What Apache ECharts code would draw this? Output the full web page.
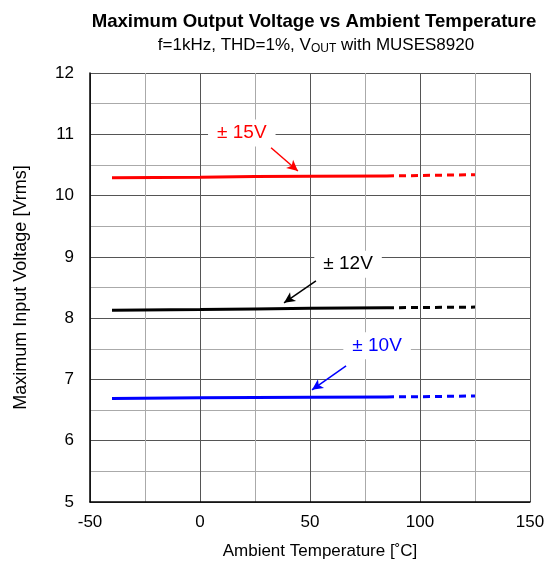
<!DOCTYPE html>
<html><head><meta charset="utf-8">
<script src="https://cdn.jsdelivr.net/npm/echarts@6/dist/echarts.min.js"></script>
<style>html,body{margin:0;padding:0;background:#fff}#c{width:551px;height:566px}</style>
</head><body><div id="c"></div>
<script>
const xTicks = [-50, 0, 50, 100, 150];
const tempSolid = [-40, 0, 25, 50, 85];
const tempDash = [85, 105, 125];
const v15Solid = [10.29, 10.30, 10.31, 10.315, 10.32];
const v15Dash = [10.32, 10.33, 10.34];
const v12Solid = [8.13, 8.14, 8.15, 8.16, 8.17];
const v12Dash = [8.17, 8.175, 8.18];
const v10Solid = [6.69, 6.70, 6.705, 6.71, 6.715];
const v10Dash = [6.715, 6.72, 6.73];
const labels = ['\u00b1 15V', '\u00b1 12V', '\u00b1 10V'];
const labelPos = [[19.0, 11.02], [67.3, 8.88], [80.5, 7.55]];
const arrows = [[[32.3, 10.78], [44.5, 10.40]], [[52.7, 8.61], [38.2, 8.25]], [[66.4, 7.22], [50.9, 6.83]]];
const colors = ['#ff0000', '#000000', '#0000ff'];

const FONT = 'Liberation Sans, Arial, sans-serif';
const zip = (a, b) => a.map((v, i) => [v, b[i]]);
const solidSets = [v15Solid, v12Solid, v10Solid];
const dashSets = [v15Dash, v12Dash, v10Dash];

const series = [];
for (let i = 0; i < 3; i++) {
  series.push({
    type: 'line', data: zip(tempSolid, solidSets[i]), symbol: 'none', smooth: false,
    lineStyle: { color: colors[i], width: 3 }, z: 3,
    markLine: {
      silent: true, symbol: ['none', 'arrow'], symbolSize: [8, 11],
      label: { show: false },
      lineStyle: { color: colors[i], width: 1.5, type: 'solid', opacity: 1 },
      itemStyle: { color: colors[i] },
      emphasis: { disabled: true },
      data: [[{ coord: arrows[i][0] }, { coord: arrows[i][1] }]]
    }
  });
  series.push({
    type: 'line', data: zip(tempDash, dashSets[i]), symbol: 'none',
    lineStyle: { color: colors[i], width: 3, type: [7, 5] }, z: 3
  });
  series.push({
    type: 'scatter', data: [labelPos[i]], symbolSize: 1, z: 5,
    itemStyle: { color: 'rgba(0,0,0,0)' },
    label: {
      show: true, position: 'inside', formatter: labels[i],
      color: colors[i], fontSize: 19, fontFamily: FONT,
      textBorderWidth: 0, opacity: 1,
      backgroundColor: '#ffffff', padding: [4, 9]
    }
  });
}

const chart = echarts.init(document.getElementById('c'), null, { renderer: 'canvas' });
chart.setOption({
  animation: false,
  backgroundColor: '#ffffff',
  title: [{
    text: 'Maximum Output Voltage vs Ambient Temperature',
    left: 309, top: 7, textAlign: 'center',
    textStyle: { fontFamily: FONT, fontSize: 18.6, fontWeight: 'bold', color: '#000' }
  }, {
    text: '{a|f=1kHz, THD=1%, V}{s|OUT}{a| with MUSES8920}',
    left: 311, top: 30, textAlign: 'center',
    textStyle: {
      fontWeight: 'normal',
      rich: {
        a: { fontFamily: FONT, fontSize: 17, fontWeight: 'normal', color: '#000' },
        s: { fontFamily: FONT, fontSize: 12, fontWeight: 'normal', color: '#000', verticalAlign: 'bottom', padding: [8, 0, 0, 0] }
      }
    }
  }],
  grid: { left: 90, right: 21, top: 73, bottom: 64, containLabel: false },
  xAxis: {
    type: 'value', min: -50, max: 150, interval: 50,
    name: 'Ambient Temperature [\u02daC]', nameLocation: 'middle', nameGap: 41,
    nameTextStyle: { fontFamily: FONT, fontSize: 17, color: '#000', padding: [0, 0, 0, 20] },
    axisLine: { show: true, onZero: false, lineStyle: { color: '#000', width: 1.5 } },
    axisTick: { show: false },
    axisLabel: { fontFamily: FONT, fontSize: 17, color: '#000', margin: 12 },
    splitLine: { show: true, lineStyle: { color: '#555', width: 1 } },
    minorTick: { show: false, splitNumber: 2 },
    minorSplitLine: { show: true, lineStyle: { color: '#aaa', width: 1 } }
  },
  yAxis: {
    type: 'value', min: 5, max: 12, interval: 1,
    name: 'Maximum Input Voltage [Vrms]', nameLocation: 'middle', nameGap: 60,
    nameTextStyle: { fontFamily: FONT, fontSize: 18, color: '#000' },
    axisLine: { show: true, onZero: false, lineStyle: { color: '#000', width: 1.5 } },
    axisTick: { show: false },
    axisLabel: { fontFamily: FONT, fontSize: 17, color: '#000', margin: 16 },
    splitLine: { show: true, lineStyle: { color: '#555', width: 1 } },
    minorTick: { show: false, splitNumber: 2 },
    minorSplitLine: { show: true, lineStyle: { color: '#aaa', width: 1 } }
  },
  series: series
});
</script></body></html>
